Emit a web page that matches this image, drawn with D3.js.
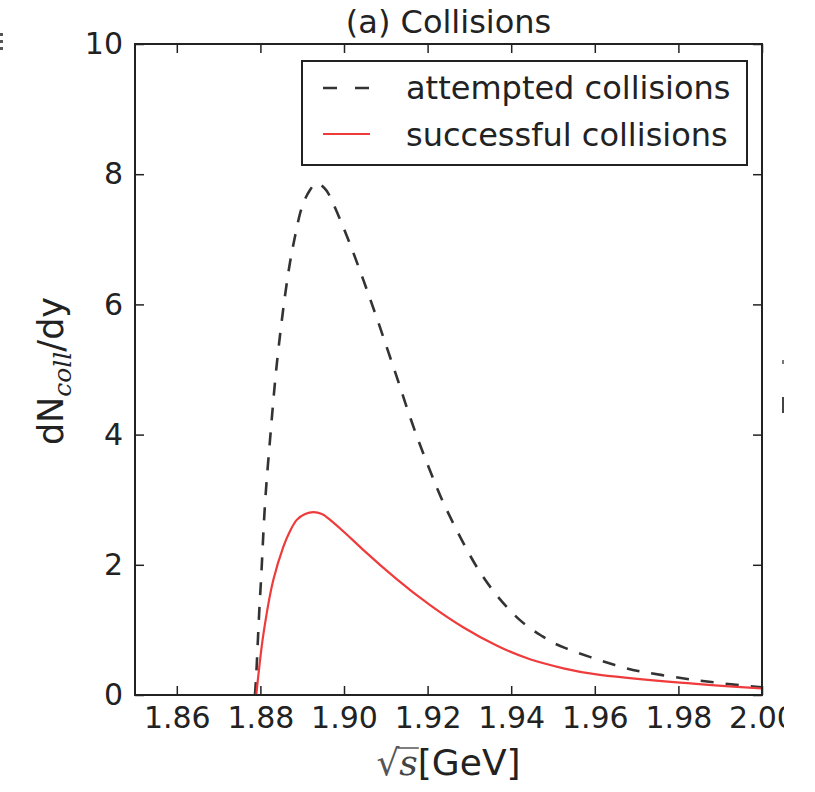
<!DOCTYPE html>
<html><head><meta charset="utf-8">
<script src="https://cdn.jsdelivr.net/npm/d3@7"></script>
<style>
body{margin:0;background:#fff}
svg{display:block;overflow:hidden}
text{font-family:"DejaVu Sans";fill:#222}
</style>
</head><body>
<svg id="c" width="784" height="792"></svg>
<script>
// ---- data ----
const xDomain = [1.85, 2.00];
const yDomain = [0, 10];
const xTicks = [1.86, 1.88, 1.90, 1.92, 1.94, 1.96, 1.98, 2.00];
const yTicks = [0, 2, 4, 6, 8, 10];
const titleText = "(a) Collisions";
const seriesNames = ["attempted collisions", "successful collisions"];

const attemptedX = [1.8787, 1.8791, 1.8797, 1.8803, 1.8811, 1.8823, 1.8835, 1.8847, 1.8859, 1.8871,
  1.8883, 1.8895, 1.8907, 1.8919, 1.8935, 1.8951, 1.8967, 1.8998, 1.9022, 1.9046,
  1.9066, 1.9086, 1.9106, 1.9126, 1.9146, 1.9170, 1.9194, 1.9218, 1.9246, 1.9301,
  1.9357, 1.9421, 1.9475, 1.9530, 1.9648, 1.9712, 1.9776, 1.9840, 1.9904, 1.9963, 2.0000];
const attemptedY = [0.00, 0.43, 1.25, 1.95, 2.93, 3.92, 4.81, 5.53, 6.14, 6.65,
  7.05, 7.40, 7.62, 7.76, 7.86, 7.80, 7.65, 7.19, 6.80, 6.38,
  6.02, 5.65, 5.27, 4.89, 4.50, 4.05, 3.64, 3.25, 2.84, 2.15,
  1.60, 1.15, 0.90, 0.72, 0.46, 0.36, 0.29, 0.23, 0.18, 0.14, 0.12];

const successfulX = [1.8790, 1.8803, 1.8815, 1.8831, 1.8855, 1.8871, 1.8887, 1.8907, 1.8927, 1.8947,
  1.8967, 1.9006, 1.9046, 1.9126, 1.9206, 1.9285, 1.9365, 1.9445, 1.9525, 1.9612,
  1.9804, 2.0000];
const successfulY = [0.00, 0.74, 1.25, 1.77, 2.28, 2.52, 2.69, 2.78, 2.81, 2.78,
  2.69, 2.47, 2.23, 1.78, 1.38, 1.04, 0.76, 0.55, 0.41, 0.31,
  0.19, 0.10];

// ---- layout ----
const M = {left: 135, top: 44, right: 762, bottom: 695};
const svg = d3.select("#c");
const x = d3.scaleLinear().domain(xDomain).range([M.left, M.right]);
const y = d3.scaleLinear().domain(yDomain).range([M.bottom, M.top]);
const ink = "#222";

svg.append("defs").append("clipPath").attr("id", "plotclip")
  .append("rect").attr("x", M.left).attr("y", M.top)
  .attr("width", M.right - M.left).attr("height", M.bottom - M.top);

// curves
const line = d3.line().x(d => x(d[0])).y(d => y(d[1])).curve(d3.curveNatural);
const plot = svg.append("g").attr("clip-path", "url(#plotclip)");
plot.append("path").datum(attemptedX.map((v, i) => [v, attemptedY[i]]))
  .attr("d", line).attr("fill", "none").attr("stroke", "#333")
  .attr("stroke-width", 2.6).attr("stroke-dasharray", "13,12");
plot.append("path").datum(successfulX.map((v, i) => [v, successfulY[i]]))
  .attr("d", line).attr("fill", "none").attr("stroke", "#ef3b3b")
  .attr("stroke-width", 2.2);

// axes
function styleAxis(g) {
  g.select(".domain").remove();
  g.selectAll(".tick line").attr("stroke", ink).attr("stroke-width", 1.5);
  g.selectAll(".tick text").attr("font-size", 30).attr("fill", ink)
    .attr("font-family", "DejaVu Sans");
}
svg.append("g").attr("transform", `translate(0,${M.bottom})`)
  .call(d3.axisBottom(x).tickValues(xTicks).tickSize(-9).tickPadding(12).tickFormat(d3.format(".2f")))
  .call(styleAxis);
svg.append("g").attr("transform", `translate(0,${M.top})`)
  .call(d3.axisTop(x).tickValues(xTicks).tickSize(-9).tickFormat(""))
  .call(styleAxis);
svg.append("g").attr("transform", `translate(${M.left},0)`)
  .call(d3.axisLeft(y).tickValues(yTicks).tickSize(-9).tickPadding(12).tickFormat(d3.format("d")))
  .call(styleAxis);
svg.append("g").attr("transform", `translate(${M.right},0)`)
  .call(d3.axisRight(y).tickValues(yTicks).tickSize(-9).tickFormat(""))
  .call(styleAxis);

// frame
svg.append("rect").attr("x", M.left).attr("y", M.top)
  .attr("width", M.right - M.left).attr("height", M.bottom - M.top)
  .attr("fill", "none").attr("stroke", ink).attr("stroke-width", 2);

// title
svg.append("text").attr("x", (M.left + M.right) / 2).attr("y", 33)
  .attr("text-anchor", "middle").attr("font-size", 32).text(titleText);

// legend
const lg = svg.append("g");
lg.append("rect").attr("x", 302).attr("y", 61).attr("width", 445).attr("height", 104)
  .attr("fill", "#fff").attr("stroke", ink).attr("stroke-width", 2);
lg.append("line").attr("x1", 323).attr("x2", 369).attr("y1", 88).attr("y2", 88)
  .attr("stroke", "#333").attr("stroke-width", 2.6).attr("stroke-dasharray", "14,18");
lg.append("line").attr("x1", 323).attr("x2", 370).attr("y1", 134).attr("y2", 134)
  .attr("stroke", "#ef3b3b").attr("stroke-width", 2.2);
lg.append("text").attr("x", 406).attr("y", 99).attr("font-size", 32).text(seriesNames[0]);
lg.append("text").attr("x", 406).attr("y", 146).attr("font-size", 32).text(seriesNames[1]);

// y label
const yl = svg.append("text").attr("transform", "translate(63,371) rotate(-90)")
  .attr("text-anchor", "middle").attr("font-size", 35);
yl.append("tspan").text("dN");
yl.append("tspan").attr("dy", 8).attr("font-size", 25).attr("font-style", "italic")
  .attr("font-family", "DejaVu Serif").text("coll");
yl.append("tspan").attr("dy", -8).text("/dy");

// x label
const xl = svg.append("text").attr("y", 775).attr("font-size", 36);
xl.append("tspan").attr("font-family", "DejaVu Serif").attr("fill", "#555").text("\u221A");
xl.append("tspan").attr("font-family", "DejaVu Serif").attr("font-style", "italic").attr("fill", "#444").text("s");
xl.append("tspan").attr("font-family", "DejaVu Sans").text("[GeV]");
const w = xl.node().getComputedTextLength();
const x0 = 448.5 - w / 2;
xl.attr("x", x0);
const n = xl.node();
const rEnd = n.getEndPositionOfChar(0).x;
const sEnd = n.getEndPositionOfChar(1).x;
svg.append("line").attr("x1", rEnd - 2).attr("x2", sEnd + 1).attr("y1", 748).attr("y2", 748)
  .attr("stroke", "#555").attr("stroke-width", 1.5);

// cut-off marks from neighbouring panels
[[33, 36], [40, 43], [47, 50]].forEach(p => svg.append("rect")
  .attr("x", 0).attr("y", p[0]).attr("width", 3).attr("height", p[1] - p[0]).attr("fill", "#555"));
svg.append("rect").attr("x", 782).attr("y", 360).attr("width", 2).attr("height", 4).attr("fill", "#777");
svg.append("rect").attr("x", 782).attr("y", 397).attr("width", 2).attr("height", 16).attr("fill", "#444");
</script>
</body></html>
